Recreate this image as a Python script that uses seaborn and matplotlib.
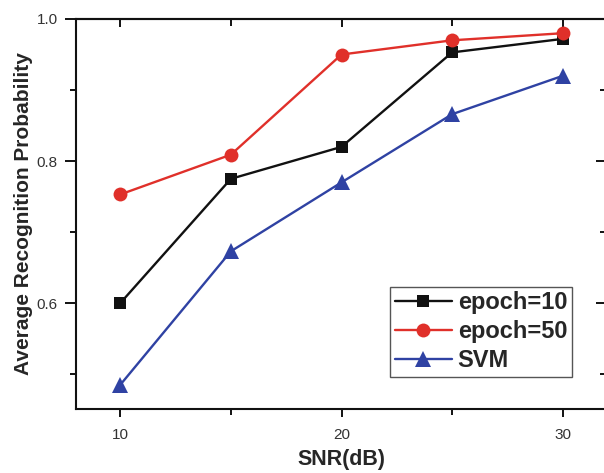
import matplotlib
matplotlib.use("Agg")
import matplotlib.pyplot as plt
from matplotlib.ticker import FixedLocator
import seaborn as sns
import pandas as pd

snr = [10, 15, 20, 25, 30]
epoch10 = [0.600, 0.775, 0.820, 0.953, 0.972]
epoch50 = [0.753, 0.809, 0.950, 0.970, 0.980]
svm = [0.485, 0.673, 0.770, 0.866, 0.920]
series_names = ["epoch=10", "epoch=50", "SVM"]
x_ticks = [10, 20, 30]
y_ticks = [0.6, 0.8, 1.0]
y_tick_labels = ["0.6", "0.8", "1.0"]

rows = []
for name, vals in zip(series_names, [epoch10, epoch50, svm]):
    for s, v in zip(snr, vals):
        rows.append({"SNR": s, "prob": v, "method": name})
df = pd.DataFrame(rows)

sns.set_style("ticks")
plt.rcParams["font.family"] = ["Liberation Sans", "DejaVu Sans"]

colors = {"epoch=10": "#111111", "epoch=50": "#e0302a", "SVM": "#2f42a3"}
markers = {"epoch=10": "s", "epoch=50": "o", "SVM": "^"}

fig = plt.figure(figsize=(6.04, 4.73), dpi=100)
ax = fig.add_axes([76 / 604, (473 - 409) / 473, (607 - 76) / 604, (409 - 19) / 473])

sns.lineplot(data=df, x="SNR", y="prob", hue="method", style="method",
             markers=markers, dashes=False, palette=colors, ax=ax,
             linewidth=1.7, markersize=9, markeredgewidth=0)
for line in ax.get_lines():
    if line.get_marker() == "^":
        line.set_markersize(11)
    elif line.get_marker() == "o":
        line.set_markersize(10)

ax.set_xlim(8, 32)
ax.set_ylim(0.451, 1.0)
ax.xaxis.set_major_locator(FixedLocator(x_ticks))
ax.xaxis.set_minor_locator(FixedLocator([15, 25]))
ax.yaxis.set_major_locator(FixedLocator(y_ticks))
ax.set_yticklabels(y_tick_labels)
ax.yaxis.set_minor_locator(FixedLocator([0.5, 0.7, 0.9]))

for sp in ax.spines.values():
    sp.set_linewidth(1.5)
    sp.set_color("#111111")

ax.tick_params(axis="both", which="major", direction="out", length=6, width=1.4,
               labelsize=11, labelcolor="#333333", color="#111111", pad=5)
ax.tick_params(axis="both", which="minor", direction="out", length=4, width=1.4,
               color="#111111")
ax.tick_params(axis="y", which="major", length=8)
ax.tick_params(axis="x", which="major", pad=8)
ax.tick_params(top=False, right=False, which="both")

secx = ax.secondary_xaxis("top")
secx.xaxis.set_major_locator(FixedLocator(x_ticks))
secx.xaxis.set_minor_locator(FixedLocator([15, 25]))
secx.tick_params(which="both", direction="in", labeltop=False, width=1.4, color="#111111")
secx.tick_params(which="major", length=6)
secx.tick_params(which="minor", length=5)
secx.spines["top"].set_linewidth(1.5)

secy = ax.secondary_yaxis("right")
secy.yaxis.set_major_locator(FixedLocator(y_ticks))
secy.yaxis.set_minor_locator(FixedLocator([0.5, 0.7, 0.9]))
secy.tick_params(which="both", direction="in", labelright=False, width=1.4, color="#111111")
secy.tick_params(which="major", length=8)
secy.tick_params(which="minor", length=5)
secy.spines["right"].set_linewidth(1.5)

ax.set_xlabel("SNR(dB)", fontsize=15.5, fontweight="bold", labelpad=5)
ax.set_ylabel("Average Recognition Probability", fontsize=15, fontweight="bold", labelpad=3)

handles, labels = ax.get_legend_handles_labels()
leg = ax.legend(handles, labels, loc="lower right", bbox_to_anchor=(0.934, 0.082),
                prop={"weight": "bold", "size": 17}, frameon=True, fancybox=False,
                edgecolor="#555555", framealpha=1, borderpad=0.2, labelspacing=0.25,
                handlelength=2.4, handletextpad=0.25, borderaxespad=0)
leg.get_frame().set_linewidth(1.0)

fig.savefig("out.png", dpi=100)
